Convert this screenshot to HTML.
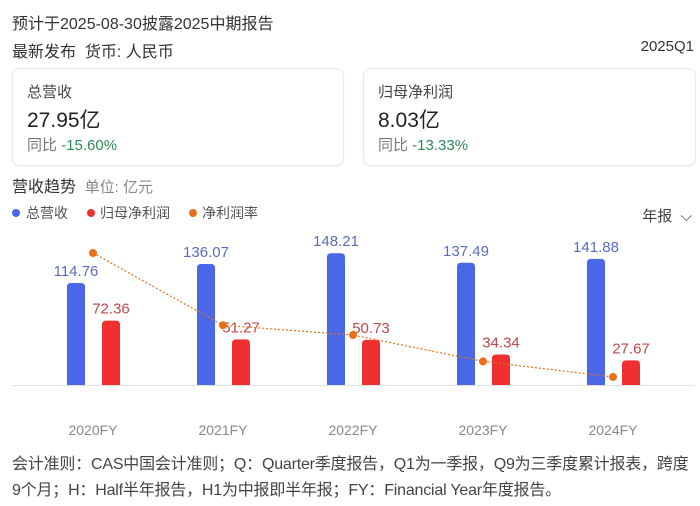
<!DOCTYPE html>
<html><head><meta charset="utf-8"><style>
body{margin:0;width:700px;height:506px;background:#fff;font-family:"Liberation Sans","Noto Sans CJK SC",sans-serif;color:#333;position:relative;overflow:hidden}
.a{position:absolute;white-space:nowrap}
.card{position:absolute;top:68px;height:96px;border:1px solid #e8e8e8;border-radius:8px;box-shadow:0 1px 3px rgba(0,0,0,.04)}
</style></head><body>
<div class="a" style="left:12px;top:10px;font-size:16px;color:#333">预计于2025-08-30披露2025中期报告</div>
<div class="a" style="left:12px;top:38px;font-size:16px;color:#333">最新发布&nbsp;&nbsp;货币: 人民币</div>
<div class="a" style="right:6px;top:38px;font-size:15px;color:#333">2025Q1</div>
<div class="card" style="left:12px;width:330px">
 <div class="a" style="left:14px;top:12px;font-size:15px;color:#444">总营收</div>
 <div class="a" style="left:14px;top:35px;font-size:21px;color:#222">27.95亿</div>
 <div class="a" style="left:14px;top:65px;font-size:15px;color:#777">同比 <span style="color:#2e8b57">-15.60%</span></div>
</div>
<div class="card" style="left:363px;width:331px">
 <div class="a" style="left:14px;top:12px;font-size:15px;color:#444">归母净利润</div>
 <div class="a" style="left:14px;top:35px;font-size:21px;color:#222">8.03亿</div>
 <div class="a" style="left:14px;top:65px;font-size:15px;color:#777">同比 <span style="color:#2e8b57">-13.33%</span></div>
</div>
<div class="a" style="left:12px;top:173px;font-size:16px;color:#333">营收趋势 <span style="color:#888;font-size:15px">&nbsp;单位: 亿元</span></div>
<div class="a" style="right:8px;top:205px;font-size:15px;color:#444">年报 &nbsp;⌵</div>
<svg id="chart" width="700" height="506" style="position:absolute;left:0;top:0">
 <g font-size="14">
  <circle cx="16" cy="213" r="4" fill="#4a67e8"/><text x="26" y="218" fill="#555">总营收</text>
  <circle cx="91" cy="213" r="4" fill="#f03030"/><text x="100" y="218" fill="#555">归母净利润</text>
  <circle cx="193" cy="213" r="4" fill="#e8701a"/><text x="202" y="218" fill="#555">净利润率</text>
 </g>
 <line x1="12" y1="385.5" x2="694" y2="385.5" stroke="#e0e0e0"/>
</svg>
<div class="a" style="left:12px;top:452px;font-size:16px;color:#444;line-height:26px;letter-spacing:-0.2px">会计准则：CAS中国会计准则；Q：Quarter季度报告，Q1为一季报，Q9为三季度累计报表，跨度<br>9个月；H：Half半年报告，H1为中报即半年报；FY：Financial Year年度报告。</div>
<script>
const categories=["2020FY","2021FY","2022FY","2023FY","2024FY"];
const revenue=[114.76,136.07,148.21,137.49,141.88];
const netProfit=[72.36,51.27,50.73,34.34,27.67];
const revLabels=["114.76","136.07","148.21","137.49","141.88"];
const profitLabels=["72.36","51.27","50.73","34.34","27.67"];
const svg=document.getElementById('chart');
const NS='http://www.w3.org/2000/svg';
const base=385;
function xC(i){return 93+i*130;}
function yV(v){return base-v*0.889;}
function yM(m){return 432.5-m*2.847;}
function mk(t,a){const e=document.createElementNS(NS,t);for(const k in a)e.setAttribute(k,a[k]);svg.appendChild(e);return e;}
function bar(x,v,c){const y=yV(v),h=base-y,r=4;
 return mk('path',{d:`M${x} ${base}V${y+r}Q${x} ${y} ${x+r} ${y}H${x+18-r}Q${x+18} ${y} ${x+18} ${y+r}V${base}Z`,fill:c});}
const pts=[];
categories.forEach((c,i)=>{
 const cx=xC(i);
 const b=bar(cx-26,revenue[i],'#4a67e8');
 
 
 const r=bar(cx+9,netProfit[i],'#f03030');
 
 
 const t1=mk('text',{x:cx-17,y:yV(revenue[i])-7,'text-anchor':'middle','font-size':'15',fill:'#5a6cc0'});t1.textContent=revLabels[i];
 
 
 const t2=mk('text',{x:cx+18,y:yV(netProfit[i])-7,'text-anchor':'middle','font-size':'15',fill:'#c04848'});t2.textContent=profitLabels[i];
 
 
 const tx=mk('text',{x:cx,y:435,'text-anchor':'middle','font-size':'14',fill:'#888'});tx.textContent=c;
 
 
 pts.push([cx,yM(netProfit[i]/revenue[i]*100)]);
});
const ln=mk('polyline',{points:pts.map(p=>p.join(',')).join(' '),fill:'none',stroke:'#e8701a','stroke-width':'1.2','stroke-dasharray':'2,2'});


pts.forEach(p=>{const c=mk('circle',{cx:p[0],cy:p[1],r:4,fill:'#e8701a'});
 
 });
</script>
</body></html>
